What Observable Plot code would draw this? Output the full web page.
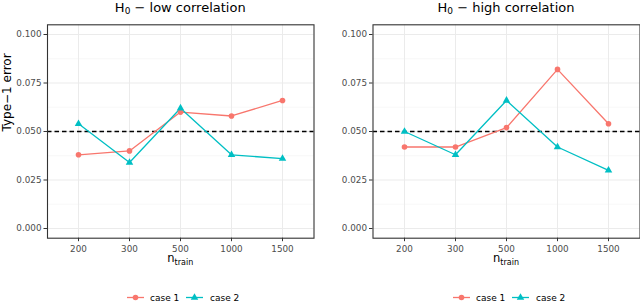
<!DOCTYPE html>
<html>
<head>
<meta charset="utf-8">
<script src="https://cdn.jsdelivr.net/npm/d3@7"></script>
<script src="https://cdn.jsdelivr.net/npm/@observablehq/plot@0.6"></script>
<style>
  body { margin: 0; background: #fff; }
  #wrap { position: relative; width: 640px; height: 303px; overflow: hidden; background: #fff; }
  #wrap svg { position: absolute; top: 0; }
</style>
</head>
<body>
<div id="wrap"></div>
<script>
// ---- data ----
const nTrain = ["200", "300", "500", "1000", "1500"];
const lowCase1 = [0.038, 0.040, 0.060, 0.058, 0.066];
const lowCase2 = [0.054, 0.034, 0.062, 0.038, 0.036];
const highCase1 = [0.042, 0.042, 0.052, 0.082, 0.054];
const highCase2 = [0.050, 0.038, 0.066, 0.042, 0.030];
const caseLabels = ["case 1", "case 2"];
const caseColors = ["#F8766D", "#00BFC4"];
const caseSymbols = ["circle", "triangle"];
const yTicks = [0, 0.025, 0.05, 0.075, 0.1];
const yMinor = [0.0125, 0.0375, 0.0625, 0.0875];
const alphaLevel = 0.05;
const panelTitles = ["low correlation", "high correlation"];
const yTitle = "Type\u22121 error";

const FONT = "DejaVu Sans";
const wrap = document.getElementById("wrap");

function makePanel(c1, c2, title, opts) {
  const rows = nTrain.flatMap((n, i) => [
    {n, v: c1[i], k: caseLabels[0]},
    {n, v: c2[i], k: caseLabels[1]}
  ]);
  const marks = [
    Plot.ruleY(yMinor, {stroke: "#f4f4f4", strokeWidth: 0.6}),
    Plot.ruleY(yTicks, {stroke: "#ebebeb", strokeWidth: 1}),
    Plot.ruleX(nTrain, {stroke: "#ebebeb", strokeWidth: 1}),
    Plot.ruleY([alphaLevel], {stroke: "#000", strokeDasharray: "4.5,3", strokeWidth: 1.3}),
    Plot.line(rows, {x: "n", y: "v", stroke: "k", z: "k", strokeWidth: 1.3}),
    Plot.dot(rows, {x: "n", y: "v", fill: "k", symbol: "k", r: 2.8, stroke: null}),
    Plot.frame({stroke: "#333", strokeWidth: 1.1}),
    Plot.axisY({ticks: yTicks, tickFormat: d3.format(".3f"), tickSize: 3.5, tickPadding: 2.5,
      fontSize: 8.8, fill: "#4d4d4d", stroke: "#333", label: null}),
    Plot.axisX({tickSize: 3.5, tickPadding: 4, fontSize: 8.8, fill: "#4d4d4d", stroke: "#333", label: null})
  ];
  if (opts.yLabel) {
    marks.push(Plot.text([yTitle], {frameAnchor: "left", rotate: -90, dx: -40, fontSize: 12, fill: "#000"}));
  }
  const svg = Plot.plot({
    width: 320, height: 303,
    marginTop: 24.3, marginBottom: 65.3,
    marginLeft: opts.marginLeft, marginRight: opts.marginRight,
    style: {fontFamily: FONT, background: "transparent", overflow: "visible"},
    x: {type: "point", domain: nTrain, padding: 0.6},
    y: {domain: [-0.005, 0.105]},
    color: {domain: caseLabels, range: caseColors},
    symbol: {domain: caseLabels, range: caseSymbols},
    marks
  });
  svg.style.left = opts.left + "px";
  const s = d3.select(svg);
  const cx = opts.marginLeft + (320 - opts.marginLeft - opts.marginRight) / 2;
  // title
  const t = s.append("text").attr("x", cx).attr("y", 11.7).attr("text-anchor", "middle")
    .style("font-family", FONT).style("font-size", "13px").attr("fill", "#000");
  t.append("tspan").text("H");
  t.append("tspan").attr("font-size", "9px").attr("dy", 2.5).text("0");
  t.append("tspan").attr("dy", -2.5).text(" \u2212 " + title);
  // x title
  const xt = s.append("text").attr("x", cx).attr("y", 262).attr("text-anchor", "middle")
    .style("font-family", FONT).style("font-size", "11.5px").attr("fill", "#000");
  xt.append("tspan").text("n");
  xt.append("tspan").attr("font-size", "8px").attr("dy", 3).text("train");
  // legend
  const lx = opts.legendX, ly = 297.5;
  const keys = [
    {x: lx, tx: lx + 23},
    {x: lx + 59, tx: lx + 83}
  ];
  caseLabels.forEach((lab, i) => {
    const k = keys[i];
    s.append("line").attr("x1", k.x).attr("x2", k.x + 17).attr("y1", ly).attr("y2", ly)
      .attr("stroke", caseColors[i]).attr("stroke-width", 1.3);
    const sym = i === 0 ? d3.symbolCircle : d3.symbolTriangle;
    s.append("path").attr("d", d3.symbol(sym, Math.PI * 2.8 * 2.8)())
      .attr("transform", `translate(${k.x + 8.5},${ly})`).attr("fill", caseColors[i]);
    s.append("text").attr("x", k.tx).attr("y", ly).attr("dy", "0.35em").attr("text-anchor", "start")
      .style("font-family", FONT).style("font-size", "9px").attr("fill", "#000").text(lab);
  });
  wrap.appendChild(svg);
}

makePanel(lowCase1, lowCase2, panelTitles[0], {left: 0, marginLeft: 47, marginRight: 6.5, yLabel: true, legendX: 127});
makePanel(highCase1, highCase2, panelTitles[1], {left: 320, marginLeft: 52.5, marginRight: 0.5, yLabel: false, legendX: 453 - 320});
</script>
</body>
</html>
